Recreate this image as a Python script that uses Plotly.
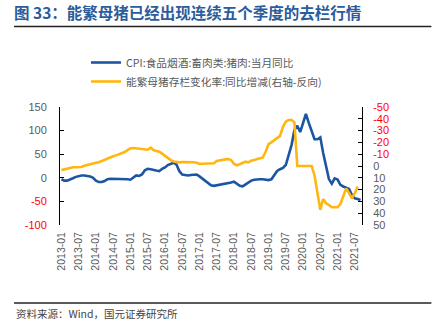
import plotly.graph_objects as go

# ---------------- data ----------------
months = [f"{y}-{m:02d}" for y in range(2013, 2022) for m in range(1, 13)][:105]  # 2013-01 .. 2021-09

cpi_pork = [
    -3, -6, -6, -4, -1, 2, 4, 5, 5, 4, 3, 0,
    -6, -9, -9, -7, -3, -2, -2, -2, -2, -2, -3, -3,
    -4, 0, 5, 4, 7, 16, 19, 18, 17, 16, 14, 19,
    22, 27, 30, 32, 28, 14, 7, 6, 5, 6, 7, 7,
    3, -2, -6, -11, -16, -17, -16, -14, -13, -12, -11, -10,
    -8, -12, -17, -18, -14, -9, -6, -4, -3, -3, -3, -4,
    -4.8, -3.3, 5.1, 14.4, 18.2, 21.1, 27.0, 46.7, 69.3, 101.3, 110.2, 97.0,
    116.0, 135.2, 116.4, 96.9, 81.7, 81.6, 85.7, 52.6, 25.5, -2.8, -12.5, -1.3,
    -3.9, -14.9, -18.4, -21.4, -23.8, -36.5, -43.5, -44.9, -46.9,
]

sow_stock = [
    3.5, 2.8, 2.0, 1.5, 1.1, 1.0, 0.9, 0.8, -0.3, -1.0, -2.0, -2.3,
    -2.8, -3.2, -4.2, -5.8, -6.8, -7.5, -8.2, -9.0, -9.9, -10.8, -11.8, -13.5,
    -15.0, -15.2, -15.0, -14.6, -14.4, -14.2, -13.8, -15.5, -13.5, -12.8, -12.1, -10.5,
    -8.5, -6.5, -5.0, -3.8, -3.3, -3.1, -3.3, -3.4, -3.4, -3.4, -3.2, -2.8,
    -1.7, -1.9, -2.0, -2.6, -2.6, -2.3, -4.2, -4.8, -5.2, -5.6, -5.9, -5.0,
    -1.7, -0.6, -1.5, -2.5, -3.7, -3.0, -4.5, -5.0, -5.6, -6.5, -7.3, -12.1,
    -18.6, -20.0, -22.0, -23.5, -25.5, -33.0, -37.5, -39.0, -39.0, -37.0, 0, 0,
    0, 0, 0, 0, 8, 24, 37, 28, 31.5, 33, 35, 35,
    35, 32, 25, 19, 23, 27.5, 23, 17.6,
]

x_ticks = months[::6]
left_ticks = [150, 100, 50, 0, -50, -100]
right_ticks = [-50, -40, -30, -20, -10, 0, 10, 20, 30, 40, 50]

name_cpi = "CPI:食品烟酒:畜肉类:猪肉:当月同比"
name_sow = "能繁母猪存栏变化率:同比增减(右轴-反向)"
title_text = "图 33：能繁母猪已经出现连续五个季度的去栏行情"
source_text = "资料来源：Wind，国元证券研究所"

# ---------------- layout helpers ----------------
W, H = 432, 332
L, R, T, B = 60, 362.5, 107, 225
def px(x): return (x - L) / (R - L)
def py(y): return (B - y) / (B - T)

GRAY = "#595959"
RED = "#FF0000"
BLUE = "#1C56A3"
GOLD = "#FFB70F"
FONT = "Liberation Sans, Noto Sans CJK SC, sans-serif"
CJK = "Noto Sans CJK SC, sans-serif"

def colored(v):
    c = RED if v < 0 else GRAY
    return f"<span style='color:{c}'>{v}</span>"

fig = go.Figure()
fig.add_trace(go.Scatter(x=months, y=cpi_pork, mode="lines", name=name_cpi,
                         line=dict(color=BLUE, width=2.6), xaxis="x", yaxis="y"))
fig.add_trace(go.Scatter(x=months[:len(sow_stock)], y=sow_stock, mode="lines", name=name_sow,
                         line=dict(color=GOLD, width=2.6), xaxis="x", yaxis="y2"))

n = len(months)
boundary_ticks = [i + 0.5 for i, m in enumerate(months) if m.endswith("-06") or m.endswith("-12")]
zero_frac = (0 - (-100)) / (150 - (-100))

fig.update_layout(
    width=W, height=H,
    margin=dict(l=L, r=W - R, t=T, b=H - B),
    paper_bgcolor="white", plot_bgcolor="white",
    font=dict(family=FONT, size=11, color=GRAY),
    showlegend=True,
    legend=dict(x=px(86), y=py(48), xanchor="left", yanchor="top",
                font=dict(family=CJK, size=10.7, color=GRAY),
                bgcolor="rgba(0,0,0,0)", itemwidth=30, tracegroupgap=0),
    title=dict(text=f"<b>{title_text}</b>", x=14 / W, xref="container", xanchor="left",
               y=1 - 14 / H, yref="container", yanchor="middle",
               font=dict(family=CJK, size=15.5, color="#2B5C9C")),
    xaxis=dict(type="category", categoryorder="array", categoryarray=months,
               range=[-0.5, n - 0.5], tickvals=x_ticks, ticktext=x_ticks,
               tickangle=-90, showline=False, ticks="", showgrid=False, zeroline=False,
               tickfont=dict(size=10.5, color=GRAY), ticklabelstandoff=4),
    xaxis2=dict(overlaying="x", anchor="free", position=zero_frac,
                range=[-0.5, n - 0.5], tickvals=boundary_ticks, showticklabels=False,
                ticks="inside", ticklen=4, tickcolor="black", tickwidth=1,
                showline=True, linecolor="black", linewidth=1.5, showgrid=False, zeroline=False),
    yaxis=dict(range=[-100, 150], tickvals=left_ticks, ticktext=[colored(v) for v in left_ticks],
               showline=True, linecolor="black", linewidth=1, ticks="inside", ticklen=4,
               tickcolor="black", showgrid=False, zeroline=False,
               tickfont=dict(size=11), ticklabelstandoff=10),
    yaxis2=dict(overlaying="y", side="right", range=[50, -50], tickvals=right_ticks,
                ticktext=[colored(v) for v in right_ticks],
                showline=True, linecolor="black", linewidth=1, ticks="inside", ticklen=4,
                tickcolor="black", showgrid=False, zeroline=False,
                tickfont=dict(size=11), ticklabelstandoff=8),
    shapes=[
        dict(type="line", xref="paper", yref="paper", x0=px(14), x1=px(432),
             y0=py(26.5), y1=py(26.5), line=dict(color="#222222", width=1.5)),
        dict(type="line", xref="paper", yref="paper", x0=px(14), x1=px(432),
             y0=py(303), y1=py(303), line=dict(color="#222222", width=1.5)),
    ],
    annotations=[
        dict(text=source_text, xref="paper", yref="paper", x=px(14), y=py(313),
             xanchor="left", yanchor="middle", showarrow=False,
             font=dict(family=CJK, size=10.5, color="#444444")),
    ],
)

fig.write_html("out.html")
